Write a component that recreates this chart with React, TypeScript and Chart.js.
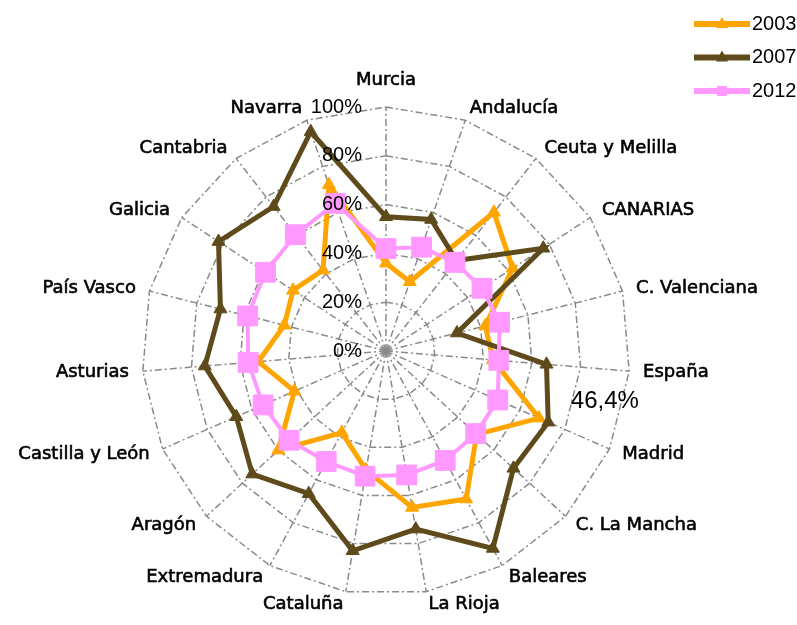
import React, { useEffect, useRef } from 'react';
import { Chart, registerables } from 'chart.js';

Chart.register(...registerables);

const categories = [
  'Murcia', 'Andalucía', 'Ceuta y Melilla', 'CANARIAS', 'C. Valenciana', 'España', 'Madrid',
  'C. La Mancha', 'Baleares', 'La Rioja', 'Cataluña', 'Extremadura', 'Aragón', 'Castilla y León',
  'Asturias', 'País Vasco', 'Galicia', 'Cantabria', 'Navarra',
];
const seriesNames = ['2003', '2007', '2012'];
const values2003 = [36, 30, 72, 62, 42, 44, 68.5, 50.5, 69, 65, 49.5, 38, 60, 41, 52.5, 43, 45.5, 42, 72];
const values2007 = [55, 57, 47, 77, 30, 66, 72.6, 71, 92, 74, 83, 66.5, 74.5, 67, 74.5, 70, 82, 75, 95];
const values2012 = [42, 45, 46, 47, 48, 46.4, 50, 50, 51, 51.5, 52, 51.5, 54, 55, 56.7, 58.5, 59, 60.4, 64];
const tickValues = [0, 20, 40, 60, 80, 100];
const tickLabels = ['0%', '20%', '40%', '60%', '80%', '100%'];
const annotationText = '46,4%';
const annotationIndex = 5;

const ORANGE = '#FFA500';
const BROWN = '#5E4A1A';
const PINK = '#FF99FF';
const GRID = '#8a8a8a';

const decorPlugin = {
  id: 'decor',
  afterDatasetsDraw(chart: any) {
    const ctx = chart.ctx;
    const scale = chart.scales.r;
    const R = scale.drawingArea;
    ctx.save();

    // tick labels
    ctx.fillStyle = '#000';
    ctx.font = '20px "Liberation Sans", Arial, sans-serif';
    ctx.textAlign = 'right';
    ctx.textBaseline = 'middle';
    tickValues.forEach((v, i) => {
      const d = scale.getDistanceFromCenterForValue(v);
      ctx.fillText(tickLabels[i], scale.xCenter - 24, scale.yCenter - d);
    });

    // point labels
    ctx.font = '18px "DejaVu Sans", sans-serif';
    ctx.fillStyle = '#000';
    ctx.strokeStyle = '#000';
    ctx.lineWidth = 0.6;
    categories.forEach((lab, i) => {
      const p = scale.getPointPosition(i, R);
      const a = scale.getIndexAngle(i);
      const s = Math.sin(a);
      const c = Math.cos(a);
      const x = p.x + 14 * s;
      let y = p.y - 13 * c;
      let align: CanvasTextAlign = 'center';
      if (Math.abs(s) < 0.05) {
        y -= 14;
      } else {
        align = s > 0 ? 'left' : 'right';
      }
      ctx.textAlign = align;
      ctx.textBaseline = 'middle';
      ctx.fillText(lab, x, y);
      ctx.strokeText(lab, x, y);
    });

    // annotation
    const pt = chart.getDatasetMeta(2).data[annotationIndex];
    ctx.font = '24px "Liberation Sans", Arial, sans-serif';
    ctx.textAlign = 'center';
    ctx.textBaseline = 'middle';
    ctx.fillText(annotationText, pt.x + 106, pt.y + 41);

    // legend
    const ds = chart.data.datasets;
    ds.forEach((d: any, i: number) => {
      const y = 24 + 33.5 * i;
      ctx.strokeStyle = d.borderColor;
      ctx.lineWidth = 6;
      ctx.beginPath();
      ctx.moveTo(694, y);
      ctx.lineTo(750, y);
      ctx.stroke();
      ctx.fillStyle = d.borderColor;
      ctx.beginPath();
      if (d.pointStyle === 'rect') {
        ctx.rect(722 - 5, y - 5, 10, 10);
      } else {
        ctx.moveTo(722, y - 7);
        ctx.lineTo(728, y + 4);
        ctx.lineTo(716, y + 4);
        ctx.closePath();
      }
      ctx.fill();
      ctx.fillStyle = '#000';
      ctx.font = '20px "Liberation Sans", Arial, sans-serif';
      ctx.textAlign = 'left';
      ctx.textBaseline = 'middle';
      ctx.fillText(d.label, 752, y);
    });

    ctx.restore();
  },
};

export default function App() {
  const ref = useRef<HTMLCanvasElement>(null);
  useEffect(() => {
    document.body.style.margin = '0';
    const chart = new Chart(ref.current as HTMLCanvasElement, {
      type: 'radar',
      data: {
        labels: categories,
        datasets: [
          {
            label: seriesNames[0], data: values2003, borderColor: ORANGE, backgroundColor: ORANGE,
            pointBackgroundColor: ORANGE, pointBorderColor: ORANGE, borderWidth: 5,
            pointStyle: 'triangle', pointRadius: 7.5, pointBorderWidth: 1, fill: false, order: 3,
          },
          {
            label: seriesNames[1], data: values2007, borderColor: BROWN, backgroundColor: BROWN,
            pointBackgroundColor: BROWN, pointBorderColor: BROWN, borderWidth: 5,
            pointStyle: 'triangle', pointRadius: 7.5, pointBorderWidth: 1, fill: false, order: 2,
          },
          {
            label: seriesNames[2], data: values2012, borderColor: PINK, backgroundColor: PINK,
            pointBackgroundColor: PINK, pointBorderColor: PINK, borderWidth: 4,
            pointStyle: 'rect', pointRadius: 14, pointBorderWidth: 1, fill: false, order: 1,
          },
        ],
      } as any,
      options: {
        animation: false,
        responsive: true,
        maintainAspectRatio: false,
        layout: { padding: { left: 0, right: 25, top: 107, bottom: 30 } },
        elements: { line: { tension: 0 } },
        plugins: { legend: { display: false }, tooltip: { enabled: false } },
        scales: {
          r: {
            min: 0,
            max: 100,
            ticks: { display: false, stepSize: 20 },
            pointLabels: { display: false },
            grid: { color: GRID, lineWidth: 1.5 },
            border: { dash: [7, 3, 2, 3] },
            angleLines: { color: GRID, lineWidth: 1.5, borderDash: [7, 3, 2, 3] },
          },
        },
      } as any,
      plugins: [decorPlugin],
    });
    return () => chart.destroy();
  }, []);
  return (
    <div style={{ width: 797, height: 625, position: 'relative', background: '#fff' }}>
      <canvas ref={ref} />
    </div>
  );
}
